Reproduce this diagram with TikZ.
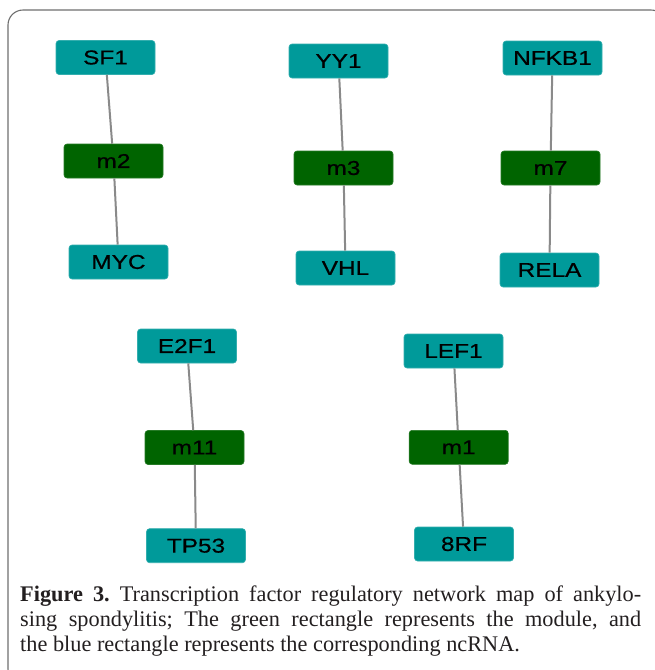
\documentclass[tikz,border=0pt]{standalone}
\usepackage{fontspec}
\setmainfont{Liberation Serif}
\newfontfamily\nodefont[FakeStretch=1.22,FakeBold=0.6]{Liberation Sans}
\usetikzlibrary{positioning}
\definecolor{tealbox}{HTML}{009A9A}
\definecolor{greenbox}{HTML}{006400}
\definecolor{framegray}{HTML}{6E6E6E}
\definecolor{edgegray}{HTML}{8A8A8A}
\definecolor{captext}{HTML}{231F20}
\tikzset{
  base/.style={rectangle, rounded corners=3pt, minimum width=99pt, minimum height=34pt, inner sep=0pt,
    font=\nodefont\fontsize{20}{20}\selectfont, text=black},
  ncrna/.style={base, fill=tealbox, draw=tealbox!80!white, line width=0.6pt},
  module/.style={base, fill=greenbox, draw=greenbox!85!white, line width=0.6pt},
  link/.style={draw=edgegray, line width=2pt}
}
\begin{document}
\begin{tikzpicture}[x=1pt,y=1pt]
\useasboundingbox (0,0) rectangle (655,-670);
\begin{scope}
\clip (0,0) rectangle (655,-670);
\draw[framegray, line width=1.1pt, rounded corners=15pt] (8,-10) rectangle (666,-684);
\end{scope}
% column 1
\node[ncrna]  (sf1) at (105.5,-57.5) {SF1};
\node[module] (m2)  at (113.5,-161) {m2};
\node[ncrna]  (myc) at (118.5,-262) {MYC};
% column 2
\node[ncrna]  (yy1) at (338.5,-61) {YY1};
\node[module] (m3)  at (343.5,-168) {m3};
\node[ncrna]  (vhl) at (345.5,-268) {VHL};
% column 3
\node[ncrna]  (nfkb1) at (552.5,-58) {NFKB1};
\node[module] (m7)    at (550.5,-168) {m7};
\node[ncrna]  (rela)  at (549.5,-270) {RELA};
% row 2 left
\node[ncrna]  (e2f1) at (187,-346) {E2F1};
\node[module] (m11)  at (194.5,-447.5) {m11};
\node[ncrna]  (tp53) at (196,-545.7) {TP53};
% row 2 right
\node[ncrna]  (lef1) at (453.5,-351) {LEF1};
\node[module] (m1)   at (458.7,-447.3) {m1};
\node[ncrna]  (rf8)  at (464,-544) {8RF};
% connectors
\draw[link] (sf1) -- (m2);  \draw[link] (m2) -- (myc);
\draw[link] (yy1) -- (m3);  \draw[link] (m3) -- (vhl);
\draw[link] (nfkb1) -- (m7); \draw[link] (m7) -- (rela);
\draw[link] (e2f1) -- (m11); \draw[link] (m11) -- (tp53);
\draw[link] (lef1) -- (m1); \draw[link] (m1) -- (rf8);
% caption
\node[anchor=north west, inner sep=0pt, text width=621pt, align=justify, text=captext,
  font=\fontsize{22.3}{25}\selectfont\frenchspacing] (cap) at (20,-585.5)
  {\textbf{Figure 3.} Transcription factor regulatory network map of ankylo-\linebreak sing spondylitis; The green rectangle represents the module, and\linebreak the blue rectangle represents the corresponding ncRNA.};
\end{tikzpicture}
\end{document}
